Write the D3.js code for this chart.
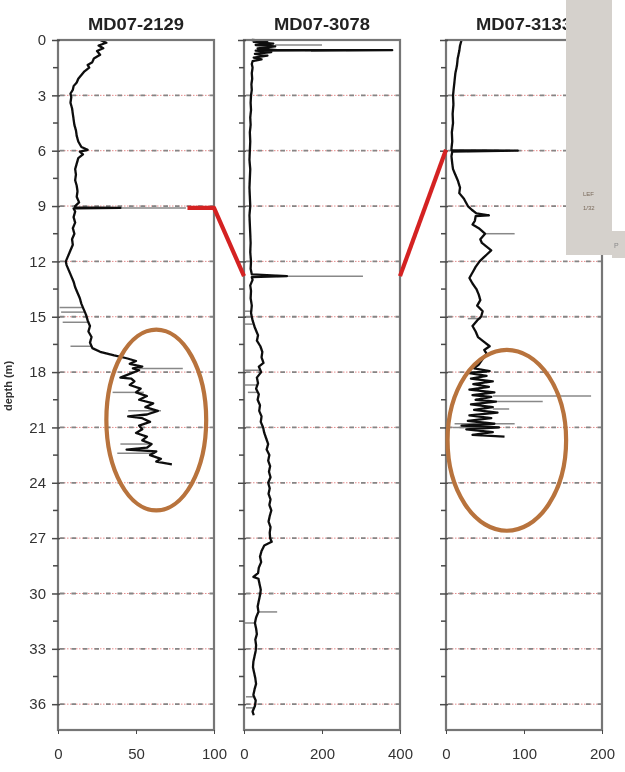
<!DOCTYPE html>
<html>
<head>
<meta charset="utf-8">
<script src="https://cdn.jsdelivr.net/npm/d3@7"></script>
<style>
body { margin: 0; background: #fff; }
svg { display: block; font-family: Arial, "Liberation Sans", sans-serif; }
</style>
</head>
<body>
<div id="main"></div>
<script>
// core names and x-axis setup
var cores = ["MD07-2129", "MD07-3078", "MD07-3133"];
var x_max = [100, 400, 200];
var x_ticks = [[0, 50, 100], [0, 200, 400], [0, 100, 200]];
var depth_ticks = [0, 3, 6, 9, 12, 15, 18, 21, 24, 27, 30, 33, 36];
var depth_max = 37.4;

// [depth (m), value]
var core1 = [[0,27],[0.15,31],[0.3,26],[0.45,29],[0.6,25],[0.8,27],[1.0,23],[1.2,22],[1.35,19],[1.5,20],
    [1.7,17],[1.9,15],[2.1,13],[2.3,12],[2.5,10],[2.7,9.5],[2.9,8],[3.1,8.5],[3.4,8],[3.7,9],[4.0,9.5],
    [4.3,10],[4.6,10.5],[4.9,11.5],[5.2,12],[5.5,13],[5.8,15],[5.95,19],[6.05,14],[6.2,16],[6.4,13],
    [6.7,12],[7.0,11],[7.3,11.5],[7.6,11],[7.9,12],[8.2,12.5],[8.5,12],[8.8,13.5],[9.0,11],[9.08,11],
    [9.1,40],[9.13,10],[9.3,11],[9.6,10],[9.9,11],[10.2,9.5],[10.5,10.5],[10.8,9],[11.1,9.5],[11.4,8],
    [11.7,6.5],[12.0,5],[12.2,5.5],[12.5,7],[12.8,8.5],[13.1,10],[13.4,11],[13.7,12.5],[14.0,14],
    [14.3,15],[14.6,16.5],[14.9,18],[15.2,19],[15.5,20.5],[15.8,19.5],[16.1,21.5],[16.4,20.5],[16.7,22],
    [16.9,27],[17.1,36],[17.25,44],[17.4,50],[17.55,46],[17.7,54],[17.8,48],[17.9,52],[18.1,46],
    [18.3,40],[18.35,47],[18.5,49],[18.7,46],[18.9,53],[19.1,50],[19.3,57],[19.5,52],[19.7,61],[19.9,56],
    [20.1,64],[20.3,57],[20.4,45],[20.5,54],[20.7,59],[20.9,52],[21.1,54],[21.3,50],[21.5,57],[21.7,54],
    [21.9,60],[22.1,57],[22.2,44],[22.3,63],[22.5,59],[22.7,66],[22.85,63],[23.0,73]];
var core2 = [[0,20],[0.05,60],[0.1,25],[0.2,75],[0.27,30],[0.35,80],[0.45,35],[0.55,85],[0.55,380],
    [0.58,30],[0.65,70],[0.75,28],[0.85,60],[0.95,25],[1.05,45],[1.15,22],[1.3,20],[1.5,22],[1.8,20],
    [2.1,21],[2.4,19],[2.7,20],[3.0,18],[3.4,17],[3.8,18],[4.2,16],[4.6,17],[5.0,15],[5.5,16],[6.0,15],
    [6.5,14],[7.0,16],[7.5,15],[8.0,14],[8.5,15],[9.0,16],[9.5,14],[10.0,15],[10.5,16],[11.0,17],
    [11.5,16],[12.0,18],[12.4,17],[12.7,20],[12.8,110],[12.85,20],[13.0,22],[13.3,16],[13.6,18],
    [14.0,17],[14.4,20],[14.8,18],[15.2,22],[15.6,28],[16.0,36],[16.3,33],[16.6,42],[16.9,47],[17.2,45],
    [17.5,50],[17.7,38],[18.0,44],[18.3,33],[18.6,36],[18.9,31],[19.2,38],[19.5,35],[19.8,41],[20.1,39],
    [20.4,45],[20.7,43],[21.0,49],[21.3,52],[21.6,57],[21.9,62],[22.2,58],[22.5,65],[22.8,62],[23.1,67],
    [23.4,64],[23.7,68],[24.0,62],[24.3,66],[24.6,63],[24.9,68],[25.2,65],[25.5,70],[25.8,66],[26.1,63],
    [26.4,68],[26.7,66],[27.0,67],[27.2,71],[27.4,52],[27.7,45],[28.0,41],[28.3,44],[28.6,38],[28.9,36],
    [29.1,24],[29.2,37],[29.5,40],[29.8,43],[30.1,41],[30.4,38],[30.7,35],[31.0,37],[31.3,31],[31.6,28],
    [31.9,31],[32.2,33],[32.5,29],[32.8,31],[33.1,30],[33.4,27],[33.7,24],[34.0,23],[34.3,26],[34.6,29],
    [34.9,31],[35.2,27],[35.5,24],[35.8,30],[36.1,28],[36.4,22],[36.6,25]];
var core3 = [[0,20],[0.3,18],[0.6,17],[1.0,15],[1.4,14],[1.8,12],[2.2,11],[2.6,10],[3.0,9],[3.5,9.5],
    [4.0,8.5],[4.5,9],[5.0,7.5],[5.5,8],[5.9,7],[5.97,7],[6.0,92],[6.05,8],[6.3,7],[6.7,8],[7.0,9],
    [7.3,12],[7.6,15],[8.0,18],[8.3,17],[8.6,23],[9.0,28],[9.2,33],[9.4,39],[9.5,55],[9.55,38],[9.8,37],
    [10.0,34],[10.2,42],[10.5,50],[10.55,49],[10.8,44],[11.0,46],[11.2,52],[11.4,58],[11.6,53],[11.8,48],
    [12.0,43],[12.3,38],[12.6,34],[12.9,30],[13.2,34],[13.5,39],[13.8,42],[14.1,44],[14.4,40],[14.7,47],
    [15.0,45],[15.2,40],[15.5,34],[15.8,38],[16.1,41],[16.4,50],[16.6,56],[16.8,49],[17.0,52],[17.3,47],
    [17.6,42],[17.8,36],[17.95,56],[18.05,30],[18.2,52],[18.35,32],[18.5,60],[18.65,35],[18.8,55],
    [18.95,30],[19.1,62],[19.25,34],[19.35,58],[19.5,38],[19.6,64],[19.75,32],[19.9,60],[20.05,36],
    [20.2,66],[20.35,30],[20.5,58],[20.65,28],[20.8,62],[20.9,20],[21.0,68],[21.1,26],[21.25,60],
    [21.4,34],[21.5,75]];

// grey replicate spikes: [depth, from, to]
var spikes1 = [[9.1,40,82],[14.5,1,16],[14.75,2,17],[15.3,3,19],[16.6,8,22],[17.8,52,80],[19.1,35,55],
    [20.1,45,66],[21.9,40,60],[22.4,38,62]];
var spikes2 = [[0.27,80,200],[12.8,110,305],[14.7,0,18],[15.0,0,20],[15.4,0,22],[17.9,0,44],[18.7,0,36],
    [19.1,10,36],[31.0,37,85],[31.6,0,28],[35.6,5,25],[36.2,5,28]];
var spikes3 = [[10.5,50,88],[15.1,28,45],[19.3,60,186],[19.6,64,124],[20.0,60,81],[20.8,11,88],[21.0,9,68]];

// tie points between cores: [core, depth, value]
var ties = [[[0, 9.1, 83], [0, 9.1, 100], [1, 12.8, 0]],
            [[1, 12.8, 400], [2, 5.95, 0]]];
// highlighted intervals: [core, centre value, centre depth, half width, half depth]
var circles = [[0, 63, 20.6, 32, 4.9], [2, 78, 21.7, 76, 4.9]];

var series = [core1, core2, core3];
var spikes = [spikes1, spikes2, spikes3];
var panel_left = [58, 244, 446];
var panel_width = 156;
var top_y = 40, bottom_y = 730;

var svg = d3.select("#main").append("svg")
        .attr("width", 625)
        .attr("height", 772);

// the source picture is a soft scan
svg.append("defs").append("filter")
    .attr("id", "soft")
    .append("feGaussianBlur").attr("stdDeviation", 0.5);
var root = svg.append("g").attr("filter", "url(#soft)");

var y = d3.scaleLinear().domain([0, depth_max]).range([top_y, bottom_y]);
var xs = x_max.map(function(m, i) {
    return d3.scaleLinear().domain([0, m]).range([panel_left[i], panel_left[i] + panel_width]);
});

cores.forEach(function(name, i) {
    var x = xs[i];
    var g = root.append("g").attr("class", "panel");

    // dashed depth lines
    var grid = depth_ticks.filter(function(d) { return d > 0; });
    g.selectAll(".gridpink").data(grid).enter().append("line")
        .attr("x1", x(0)).attr("x2", x(x_max[i]))
        .attr("y1", function(d) { return y(d); }).attr("y2", function(d) { return y(d); })
        .attr("stroke", "#e58a8a").attr("stroke-width", 1)
        .attr("stroke-dasharray", "1.5,1.5");
    g.selectAll(".gridgray").data(grid).enter().append("line")
        .attr("x1", x(0) + 2).attr("x2", x(x_max[i]))
        .attr("y1", function(d) { return y(d); }).attr("y2", function(d) { return y(d); })
        .attr("stroke", "#858585").attr("stroke-width", 1.8)
        .attr("stroke-dasharray", "4.5,7");

    // grey replicate spikes
    g.selectAll(".spike").data(spikes[i]).enter().append("line")
        .attr("x1", function(d) { return x(d[1]); })
        .attr("x2", function(d) { return x(d[2]); })
        .attr("y1", function(d) { return y(d[0]); })
        .attr("y2", function(d) { return y(d[0]); })
        .attr("stroke", "#888").attr("stroke-width", 1.5);

    var line = d3.line()
            .x(function(d) { return x(d[1]); })
            .y(function(d) { return y(d[0]); });
    g.append("path")
        .datum(series[i])
        .attr("d", line)
        .attr("fill", "none")
        .attr("stroke", "#0d0d0d")
        .attr("stroke-width", 2.3)
        .attr("stroke-linejoin", "round");

    // frame
    g.append("rect")
        .attr("x", x(0)).attr("y", top_y)
        .attr("width", panel_width).attr("height", bottom_y - top_y)
        .attr("fill", "none").attr("stroke", "#767676").attr("stroke-width", 2.2);

    // depth axis ticks
    var yaxis = d3.axisLeft(y).tickValues(depth_ticks).tickSize(6)
            .tickFormat(i == 0 ? d3.format("d") : "");
    var ya = g.append("g")
            .attr("transform", "translate(" + x(0) + ",0)")
            .call(yaxis);
    ya.select(".domain").remove();
    ya.selectAll("line").attr("stroke", "#4a4a4a").attr("stroke-width", 1.5).attr("x2", -6).attr("x1", 2);
    ya.selectAll("text")
        .attr("font-size", 15).attr("fill", "#333").attr("x", -12)
        .attr("font-family", "Arial, 'Liberation Sans', sans-serif");
    var minor = depth_ticks.slice(0, -1).map(function(d) { return d + 1.5; });
    g.selectAll(".minor").data(minor).enter().append("line")
        .attr("x1", x(0) - 5).attr("x2", x(0))
        .attr("y1", function(d) { return y(d); }).attr("y2", function(d) { return y(d); })
        .attr("stroke", "#4a4a4a").attr("stroke-width", 1.5);

    // value axis
    var xa = g.append("g")
            .attr("transform", "translate(0," + bottom_y + ")")
            .call(d3.axisBottom(x).tickValues(x_ticks[i]).tickSize(4));
    xa.select(".domain").remove();
    xa.selectAll("line").attr("stroke", "#4a4a4a");
    xa.selectAll("text")
        .attr("font-size", 15).attr("fill", "#333").attr("y", 18)
        .attr("font-family", "Arial, 'Liberation Sans', sans-serif");

    root.append("text")
        .attr("x", x(x_max[i] / 2)).attr("y", 30)
        .attr("text-anchor", "middle")
        .attr("font-size", 16).attr("font-weight", "bold").attr("fill", "#222")
        .attr("textLength", 96).attr("lengthAdjust", "spacingAndGlyphs")
        .text(name);
});

// orange ellipses
root.selectAll(".circle").data(circles).enter().append("ellipse")
    .attr("cx", function(d) { return xs[d[0]](d[1]); })
    .attr("cy", function(d) { return y(d[2]); })
    .attr("rx", function(d) { return xs[d[0]](d[3]) - xs[d[0]](0); })
    .attr("ry", function(d) { return y(d[4]) - y(0); })
    .attr("fill", "none").attr("stroke", "#b8733c").attr("stroke-width", 4.2);

// red tie lines
var tie_line = d3.line()
        .x(function(d) { return xs[d[0]](d[2]); })
        .y(function(d) { return y(d[1]); });
root.selectAll(".tie").data(ties).enter().append("path")
    .attr("d", tie_line)
    .attr("fill", "none").attr("stroke", "#d42424").attr("stroke-width", 4.2)
    .attr("stroke-linejoin", "round");

root.append("text")
    .attr("transform", "translate(12,386) rotate(-90)")
    .attr("text-anchor", "middle")
    .attr("font-size", 11).attr("font-weight", "bold").attr("fill", "#333")
    .text("depth (m)");

// pasted slide fragment over the top right corner
root.append("rect").attr("x", 566).attr("y", 0).attr("width", 46).attr("height", 255).attr("fill", "#d5d1cc");
root.append("rect").attr("x", 612).attr("y", 231).attr("width", 13).attr("height", 27).attr("fill", "#d5d1cc");
root.append("text").attr("x", 583).attr("y", 196).attr("font-size", 6).attr("fill", "#7a6a5a").text("LEF");
root.append("text").attr("x", 583).attr("y", 210).attr("font-size", 6).attr("fill", "#7a6a5a").text("1/32");
root.append("text").attr("x", 614).attr("y", 248).attr("font-size", 7).attr("fill", "#8a8a8a").text("P");
</script>
</body>
</html>
